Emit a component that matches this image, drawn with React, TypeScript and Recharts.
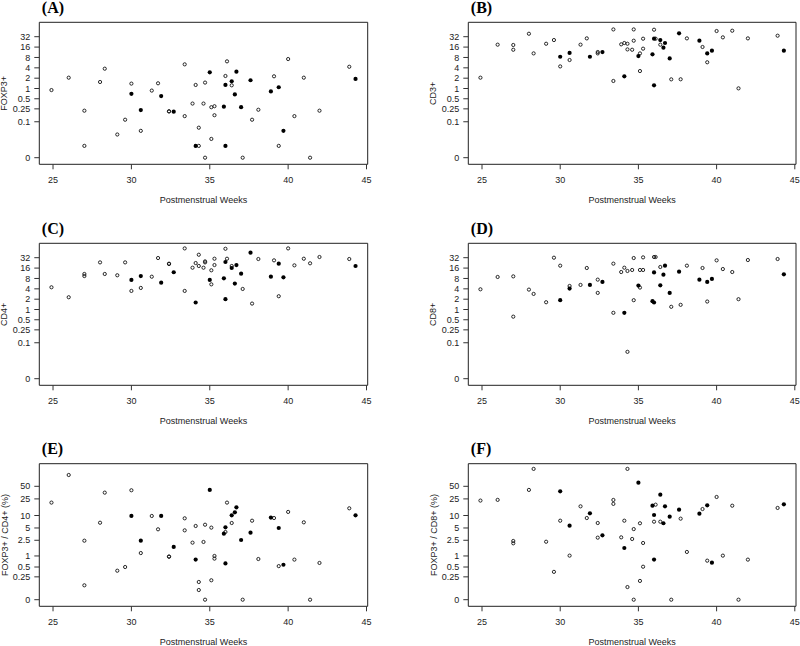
import React from 'react';
import { ScatterChart, Scatter, XAxis, YAxis, ReferenceArea } from 'recharts';

// Postmenstrual weeks of each sample (open group first, then filled group)
const weeks = [
  24.9, 26.0, 27.0, 27.0, 28.0, 28.3, 29.1, 29.6, 30.0, 30.6, 31.3, 31.7, 32.4, 32.4,
  33.4, 33.4, 33.9, 34.1, 34.3, 34.3, 34.6, 34.7, 34.7, 35.1, 35.1, 35.3, 35.3, 36.0,
  36.1, 36.4, 37.1, 37.7, 38.1, 39.1, 39.4, 40.0, 40.4, 41.0, 41.4, 42.0, 43.9,
  30.0, 30.6, 31.9, 32.7, 34.1, 35.0, 35.9, 36.0, 36.0, 36.4, 36.6, 36.7, 37.0, 37.6,
  38.9, 39.4, 39.7, 44.3,
];
// 0 = open circle, 1 = filled circle
const cohort = [
  0, 0, 0, 0, 0, 0, 0, 0, 0, 0, 0, 0, 0, 0, 0, 0, 0, 0, 0, 0, 0, 0, 0, 0, 0, 0, 0, 0,
  0, 0, 0, 0, 0, 0, 0, 0, 0, 0, 0, 0, 0,
  1, 1, 1, 1, 1, 1, 1, 1, 1, 1, 1, 1, 1, 1, 1, 1, 1, 1,
];

const foxp3 = [
  0.9, 2.07, 0.22, 0.012, 1.55, 3.78, 0.037, 0.116, 1.39, 0.05, 0.87, 1.42, 0.21, 0.21,
  5.05, 0.15, 0.36, 1.27, 0.064, 0.012, 0.36, 1.49, 0, 0.025, 0.28, 0.3, 0.16, 2.32,
  6.17, 1.24, 0, 0.116, 0.235, 2.27, 0.012, 7.2, 0.15, 2.07, 0, 0.22, 4.3,
  0.7, 0.23, 0.6, 0.205, 0.012, 2.96, 0.29, 1.27, 0.012, 1.63, 0.67, 3.1, 0.28, 1.74,
  0.82, 1.09, 0.05, 1.9,
];
const cd3 = [
  2.07, 18.8, 18.4, 13.4, 39, 10.5, 20, 25.6, 4.4, 6.75, 18.8, 28.6, 11.5, 10.5,
  52, 1.66, 19.2, 21, 20, 13.7, 13.4, 52, 24.5, 3.23, 10.5, 28, 14.4, 51,
  28, 18.8, 1.85, 1.86, 28.6, 16.1, 5.8, 46.7, 30.6, 47.7, 1.01, 28.6, 34.2,
  8.4, 10.8, 8.4, 11.5, 2.27, 8.8, 9.85, 28, 1.24, 25.6, 15.4, 21, 7.5, 40,
  24.5, 10.5, 12.6, 12.6,
];
const cd4 = [
  4.44, 2.28, 10.8, 9.4, 23.4, 10.8, 9.9, 23.4, 3.48, 4.25, 9.0, 31.3, 21.5, 21,
  59.5, 3.48, 16.4, 22.4, 39, 18.4, 16.4, 25, 23.4, 13.8, 5.4, 19.6, 29.9, 58,
  29.9, 18.4, 3.97, 1.49, 29.3, 26.8, 2.44, 59.5, 19.2, 29.9, 22, 33.5, 29.3,
  7.24, 9.4, 6.05, 12.1, 1.6, 7.24, 8.1, 24, 2.0, 16.1, 5.67, 19.6, 11, 44.6,
  9.0, 21.5, 8.65, 18.4,
];
const cd8 = [
  3.88, 8.84, 9.2, 0.617, 3.8, 2.85, 1.63, 32, 18.8, 4.85, 5.2, 16.1, 7.4, 3.05,
  0.8, 21.5, 12.3, 16.4, 13.2, 0.05, 14.1, 31.3, 1.87, 14.1, 4.35, 14.1, 32.7, 33.5,
  33.5, 17.2, 1.2, 1.37, 18.8, 16.1, 1.71, 26.8, 15, 12.3, 2.0, 27.4, 29.3,
  1.87, 4.06, 5.2, 6.33, 0.8, 4.96, 1.75, 1.6, 12, 5.07, 10.3, 18.8, 3.05, 12.6,
  7.4, 6.33, 7.74, 10.55,
];
const foxp3PerCd4 = [
  20.4, 93, 2.44, 0.12, 6.7, 35.3, 0.39, 0.5, 40.2, 1.19, 9.75, 4.64, 0.96, 0.96,
  8.56, 4.38, 2.18, 5.59, 0.164, 0.07, 2.27, 6.0, 0, 5.1, 0.19, 1.0, 0.85, 3.99,
  20.4, 6.6, 0, 7.5, 0.83, 8.7, 0.53, 12.2, 0.8, 6.85, 0, 0.65, 14.9,
  9.75, 2.44, 9.75, 1.7, 0.8, 41, 3.63, 5.19, 0.63, 10.1, 11.9, 15.7, 2.54, 3.85,
  8.9, 5.0, 0.58, 10.1,
];
const foxp3PerCd8 = [
  22.8, 23.7, 2.4, 2.1, 41, 130, 2.3, 0.36, 7.5, 1.02, 16.6, 8.7, 6.6, 2.9,
  23.6, 19, 2.95, 7.5, 130, 0.1, 2.69, 4.7, 0, 6.5, 0.18, 2.14, 0.51, 7.1,
  18.2, 7.1, 0, 8.4, 1.27, 14.3, 0.75, 27.8, 1.02, 17.2, 0, 0.8, 15.2,
  38, 5.7, 11.3, 3.3, 1.6, 61, 17.2, 10.3, 0.8, 31.6, 6.5, 16.6, 9.4, 13.8,
  11.1, 17.6, 0.66, 18.6,
];

const xTicks = [25, 30, 35, 40, 45];
const countTicks = [0, 0.1, 0.25, 0.5, 1, 2, 4, 8, 16, 32];
const pctTicks = [0, 0.25, 0.5, 1, 2.5, 5, 10, 25, 50];
const countOffset = 0.01;
const pctOffset = 0.1;
const xDomain: [number, number] = [24.124, 45.076];
const countDomain: [number, number] = [-7.279, 6.386];
const pctDomain: [number, number] = [-3.844, 7.434];

const SANS = '"Liberation Sans", Arial, Helvetica, sans-serif';
const SERIF = '"Liberation Serif", "Times New Roman", serif';

const tr = (v: number, c: number) => Math.log2(v + c);

type PanelCfg = {
  title: string;
  yLabel: string;
  values: number[];
  ticks: number[];
  offset: number;
  yDomain: [number, number];
  left: number;
  top: number;
  width: number;
  height: number;
  plotLeft: number;
  plotRight: number;
  plotTop: number;
  plotBottom: number;
};

const OpenDot = (p: any) => (
  <circle cx={p.cx} cy={p.cy} r={1.6} fill="none" stroke="#111" strokeWidth={0.9} />
);
const FilledDot = (p: any) => <circle cx={p.cx} cy={p.cy} r={2.1} fill="#000" stroke="none" />;

function Panel({ cfg }: { cfg: PanelCfg }) {
  const open: { x: number; y: number }[] = [];
  const filled: { x: number; y: number }[] = [];
  weeks.forEach((w, i) => {
    const v = cfg.values[i];
    if (v == null || Number.isNaN(v)) return;
    const pt = { x: w, y: tr(v, cfg.offset) };
    if (cohort[i]) filled.push(pt);
    else open.push(pt);
  });
  const tickVals = cfg.ticks.map((t) => tr(t, cfg.offset));
  const fmt = (v: number) => {
    const i = tickVals.findIndex((t) => Math.abs(t - v) < 1e-6);
    return i >= 0 ? String(cfg.ticks[i]) : '';
  };
  const xAxisH = 30;
  const margin = {
    top: cfg.plotTop,
    right: cfg.width - cfg.plotRight,
    left: 0,
    bottom: cfg.height - cfg.plotBottom - xAxisH,
  };
  const midY = (cfg.plotTop + cfg.plotBottom) / 2;
  const yLabX = cfg.plotLeft - 31.8;
  return (
    <div style={{ position: 'absolute', left: cfg.left, top: cfg.top, width: cfg.width, height: cfg.height }}>
      <ScatterChart width={cfg.width} height={cfg.height} margin={margin}>
        <XAxis
          type="number"
          dataKey="x"
          domain={xDomain}
          ticks={xTicks}
          allowDataOverflow
          interval={0}
          height={xAxisH}
          axisLine={false}
          tickLine={{ stroke: '#333' }}
          tickSize={5}
          tickMargin={7}
          tick={{ fontSize: 9, fill: '#222', fontFamily: SANS }}
        />
        <YAxis
          type="number"
          dataKey="y"
          domain={cfg.yDomain}
          ticks={tickVals}
          tickFormatter={fmt}
          allowDataOverflow
          interval={0}
          width={cfg.plotLeft}
          axisLine={false}
          tickLine={{ stroke: '#333' }}
          tickSize={5}
          tickMargin={4}
          tick={{ fontSize: 9, fill: '#222', fontFamily: SANS }}
        />
        <ReferenceArea
          x1={xDomain[0]}
          x2={xDomain[1]}
          y1={cfg.yDomain[0]}
          y2={cfg.yDomain[1]}
          fill="none"
          fillOpacity={0}
          stroke="#222"
          strokeWidth={1}
          ifOverflow="visible"
        />
        <Scatter data={open} shape={OpenDot} isAnimationActive={false} />
        <Scatter data={filled} shape={FilledDot} isAnimationActive={false} />
      </ScatterChart>
      <svg
        width={cfg.width}
        height={cfg.height}
        style={{ position: 'absolute', left: 0, top: 0, pointerEvents: 'none', overflow: 'visible' }}
      >
        <text
          x={cfg.plotLeft + 2.5}
          y={cfg.plotTop - 9.3}
          fontFamily={SERIF}
          fontWeight="bold"
          fontSize={16}
          fill="#000"
        >
          {cfg.title}
        </text>
        <text
          x={yLabX}
          y={midY}
          transform={`rotate(-90 ${yLabX} ${midY})`}
          textAnchor="middle"
          fontFamily={SANS}
          fontSize={9}
          fill="#222"
        >
          {cfg.yLabel}
        </text>
        <text
          x={(cfg.plotLeft + cfg.plotRight) / 2}
          y={cfg.plotBottom + 38.7}
          textAnchor="middle"
          fontFamily={SANS}
          fontSize={9}
          fill="#222"
        >
          Postmenstrual Weeks
        </text>
      </svg>
    </div>
  );
}

const leftCol = { left: 0, plotLeft: 39.3, plotRight: 367.7 };
const rightCol = { left: 400, plotLeft: 68.3, plotRight: 396 };
const row1 = { top: 0, height: 215, plotTop: 22.3, plotBottom: 164.3 };
const row2 = { top: 215, height: 215, plotTop: 28.3, plotBottom: 170.3 };
const row3 = { top: 430, height: 216, plotTop: 33.7, plotBottom: 176.3 };

const countAxis = { ticks: countTicks, offset: countOffset, yDomain: countDomain };
const pctAxis = { ticks: pctTicks, offset: pctOffset, yDomain: pctDomain };

const panels: PanelCfg[] = [
  { title: '(A)', yLabel: 'FOXP3+', values: foxp3, ...countAxis, ...leftCol, ...row1, width: 400 },
  { title: '(B)', yLabel: 'CD3+', values: cd3, ...countAxis, ...rightCol, ...row1, width: 400 },
  { title: '(C)', yLabel: 'CD4+', values: cd4, ...countAxis, ...leftCol, ...row2, width: 400 },
  { title: '(D)', yLabel: 'CD8+', values: cd8, ...countAxis, ...rightCol, ...row2, width: 400 },
  { title: '(E)', yLabel: 'FOXP3+ / CD4+ (%)', values: foxp3PerCd4, ...pctAxis, ...leftCol, ...row3, width: 400 },
  { title: '(F)', yLabel: 'FOXP3+ / CD8+ (%)', values: foxp3PerCd8, ...pctAxis, ...rightCol, ...row3, width: 400 },
];

export default function App() {
  return (
    <div style={{ position: 'absolute', left: 0, top: 0, width: 800, height: 646, background: '#fff', overflow: 'hidden' }}>
      {panels.map((p) => (
        <Panel key={p.title} cfg={p} />
      ))}
    </div>
  );
}
